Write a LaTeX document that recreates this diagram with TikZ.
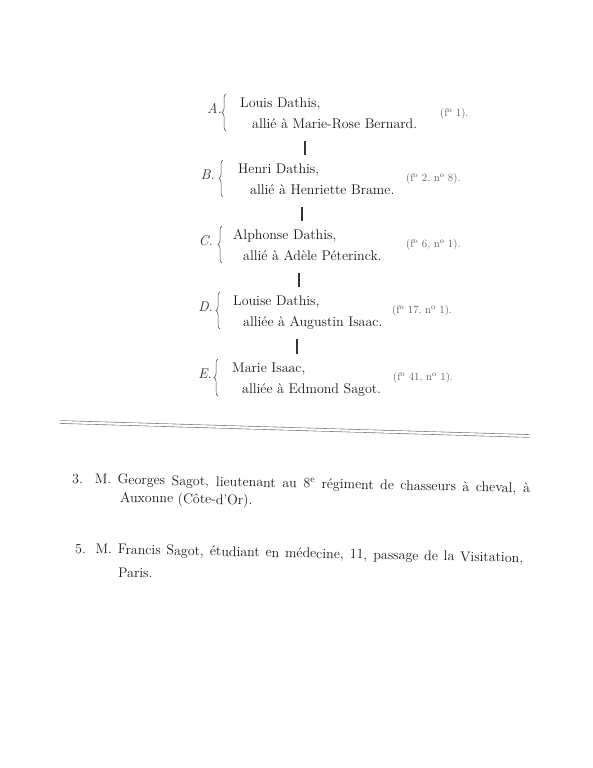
\documentclass[tikz,border=0pt]{standalone}
\usepackage{fontspec}
\usetikzlibrary{decorations.pathreplacing}

\tikzset{
  heir/.style={anchor=base west, inner sep=0pt, text=black!90, font=\fontsize{14}{16}\selectfont},
  folio/.style={anchor=base west, inner sep=0pt, text=black!65, font=\fontsize{11}{13}\selectfont},
  gen/.style={anchor=base east, inner sep=0pt, text=black!85, font=\fontsize{14}{16}\selectfont\itshape},
  brc/.style={decorate, decoration={brace, amplitude=4pt}, line width=0.5pt, draw=black!75},
  link/.style={line width=1.2pt, draw=black!80, shorten <=13pt, shorten >=18pt},
  note/.style={anchor=base west, inner sep=0pt, text=black!90, font=\fontsize{14}{16}\selectfont, rotate=-1.2},
}
\newcommand{\spread}[2]{\makebox[#1][s]{#2}}

\begin{document}
\begin{tikzpicture}[x=1pt,y=-1pt]
  \useasboundingbox (0,0) rectangle (593,768);

  % Generation A
  \node[gen] (ga) at (222,113) {A.};
  \draw[brc] (226,131) -- (226,94);
  \node[heir] (a1) at (240,107) {Louis Dathis,};
  \node[heir] (a2) at (252,128) {allié à Marie-Rose Bernard.};
  \node[folio] (fa) at (440,116) {(f\textsuperscript{o} 1).};

  % Generation B
  \node[gen] (gb) at (215,179) {B.};
  \draw[brc] (223,197) -- (223,160);
  \node[heir] (b1) at (238,173) {Henri Dathis,};
  \node[heir] (b2) at (250,194) {allié à Henriette Brame.};
  \node[folio] (fb) at (406,181) {(f\textsuperscript{o} 2, n\textsuperscript{o} 8).};

  % Generation C
  \node[gen] (gc) at (213,245) {C.};
  \draw[brc] (222,263) -- (222,226);
  \node[heir] (c1) at (233,239) {Alphonse Dathis,};
  \node[heir] (c2) at (243,260) {allié à Adèle Péterinck.};
  \node[folio] (fc) at (406,247) {(f\textsuperscript{o} 6, n\textsuperscript{o} 1).};

  % Generation D
  \node[gen] (gd) at (213,311) {D.};
  \draw[brc] (220,329) -- (220,292);
  \node[heir] (d1) at (233,305) {Louise Dathis,};
  \node[heir] (d2) at (243,326) {alliée à Augustin Isaac.};
  \node[folio] (fd) at (392,313) {(f\textsuperscript{o} 17, n\textsuperscript{o} 1).};

  % Generation E
  \node[gen] (ge) at (212,378) {E.};
  \draw[brc] (218,396) -- (218,359);
  \node[heir] (e1) at (232,372) {Marie Isaac,};
  \node[heir] (e2) at (242,393) {alliée à Edmond Sagot.};
  \node[folio] (fe) at (393,380) {(f\textsuperscript{o} 41, n\textsuperscript{o} 1).};

  % Descent bars
  \coordinate (ab) at (305,0);
  \coordinate (bc) at (302,0);
  \coordinate (cd) at (299,0);
  \coordinate (de) at (297,0);
  \draw[link] (a2.base -| ab) -- (b1.base -| ab);
  \draw[link] (b2.base -| bc) -- (c1.base -| bc);
  \draw[link] (c2.base -| cd) -- (d1.base -| cd);
  \draw[link] (d2.base -| de) -- (e1.base -| de);

  % Rule
  \draw[double, double distance=2.2pt, line width=0.6pt, draw=black!55] (60,422) -- (530,436);

  % Notes
  \node[note] (n3) at (72,483) {\spread{458pt}{3. M. Georges Sagot, lieutenant au 8\textsuperscript{e} régiment de chasseurs à cheval, à}};
  \node[note] (n3b) at (120,502) {Auxonne (Côte-d’Or).};
  \node[note] (n5) at (75,553) {\spread{448pt}{5. M. Francis Sagot, étudiant en médecine, 11, passage de la Visitation,}};
  \node[note] (n5b) at (118,577) {Paris.};
\end{tikzpicture}
\end{document}
